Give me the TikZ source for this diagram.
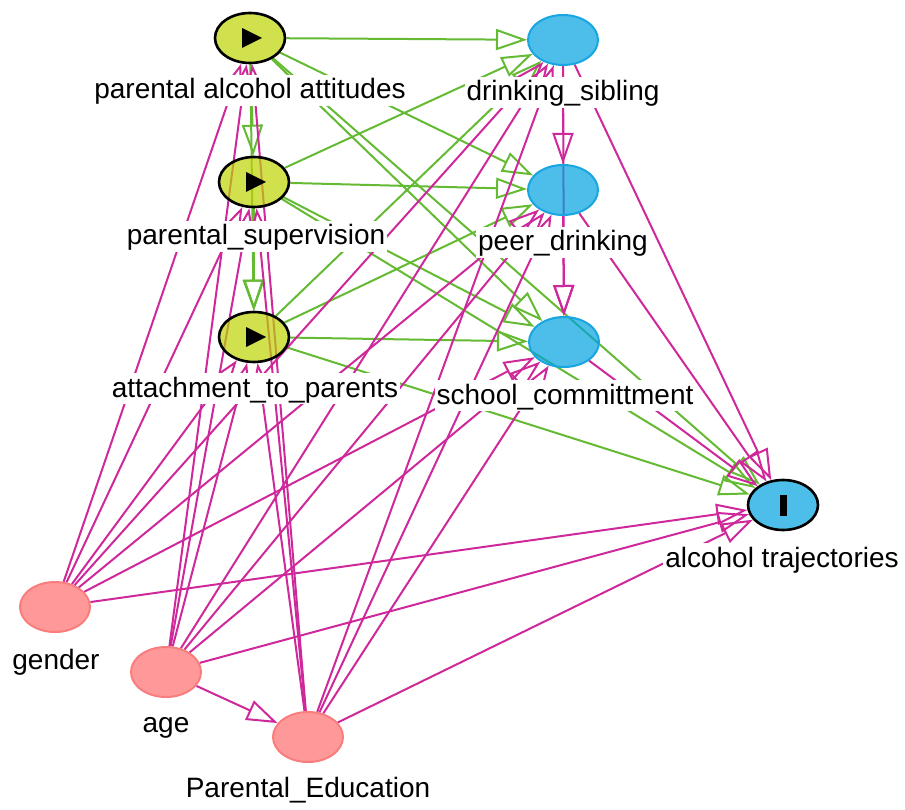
\documentclass[tikz,border=0pt]{standalone}
\usepackage{fontspec}
\setmainfont{Liberation Sans}
\usetikzlibrary{arrows.meta,shapes.geometric}

\definecolor{expfill}{RGB}{190,212,3}
\definecolor{outfill}{RGB}{0,162,224}
\definecolor{outline}{RGB}{25,165,225}
\definecolor{ancfill}{RGB}{255,110,110}
\definecolor{ancline}{RGB}{250,125,125}
\definecolor{causal}{RGB}{100,186,50}
\definecolor{biasing}{RGB}{206,40,155}

\pgfdeclarelayer{edgelayer}
\pgfdeclarelayer{labellayer}
\pgfsetlayers{edgelayer,main,labellayer}

\tikzset{
  var/.style={ellipse, minimum width=70pt, minimum height=50pt, inner sep=0pt, fill opacity=0.7},
  expo/.style={var, fill=expfill, draw=black, line width=2.6pt},
  medi/.style={var, fill=outfill, draw=outline, line width=2pt},
  outc/.style={var, fill=outfill, draw=black, line width=2.6pt},
  anc/.style={var, fill=ancfill, draw=ancline, line width=2pt},
  lab/.style={fill=white, inner xsep=2pt, inner ysep=0pt, text height=24pt, text depth=7pt,
              anchor=base, font=\fontsize{28}{30}\selectfont, text=black},
  arr/.style={-{Triangle[open, length=31pt, width=21pt]}, line width=2pt},
  causaledge/.style={arr, draw=causal},
  biasedge/.style={arr, draw=biasing},
}

\begin{document}
\begin{tikzpicture}[x=1pt, y=-1pt]
\useasboundingbox (0,0) rectangle (905,810);

% variables
\node[expo] (PAA) at (250,38)  {};
\node[expo] (PS)  at (254,182) {};
\node[expo] (ATP) at (254,337) {};
\node[medi] (DS)  at (563,40)  {};
\node[medi] (PD)  at (563,190) {};
\node[medi] (SC)  at (564,342) {};
\node[outc] (AT)  at (783,505) {};
\node[anc]  (G)   at (55,607)  {};
\node[anc]  (AG)  at (166,672) {};
\node[anc]  (PE)  at (308,737) {};

% exposure and outcome marks
\foreach \n in {PAA,PS,ATP}
  \fill[black] (\n.center) ++(-8,-10) -- ++(0,20) -- ++(20,-10) -- cycle;
\fill[black] (AT.center) ++(-3.5,-10.5) rectangle ++(7,21);

\begin{pgfonlayer}{edgelayer}
% causal paths
\draw[causaledge] (PAA) -- (PS);
\draw[causaledge] (PAA) -- (ATP);
\draw[causaledge] (PAA) -- (DS);
\draw[causaledge] (PAA) -- (PD);
\draw[causaledge] (PAA) -- (SC);
\draw[causaledge] (PAA) -- (AT);
\draw[causaledge] (PS) -- (ATP);
\draw[causaledge] (PS) -- (DS);
\draw[causaledge] (PS) -- (PD);
\draw[causaledge] (PS) -- (SC);
\draw[causaledge] (PS) -- (AT);
\draw[causaledge] (ATP) -- (DS);
\draw[causaledge] (ATP) -- (PD);
\draw[causaledge] (ATP) -- (SC);
\draw[causaledge] (ATP) -- (AT);
% biasing paths
\foreach \s in {G,AG,PE}
  \foreach \t in {PAA,PS,ATP,DS,PD,SC,AT}
    \draw[biasedge] (\s) -- (\t);
\draw[biasedge] (AG) -- (PE);
\draw[biasedge] (DS) -- (PD);
\draw[biasedge] (DS) -- (SC);
\draw[biasedge] (DS) -- (AT);
\draw[biasedge] (PD) -- (SC);
\draw[biasedge] (PD) -- (AT);
\draw[biasedge] (SC) -- (AT);
\end{pgfonlayer}

\begin{pgfonlayer}{labellayer}
\node[lab] (lPAA) at (250,99)  {parental alcohol attitudes};
\node[lab] (lPS)  at (256,245) {parental\_supervision};
\node[lab] (lATP) at (255,397) {attachment\_to\_parents};
\node[lab] (lDS)  at (563,101) {drinking\_sibling};
\node[lab] (lPD)  at (563,251) {peer\_drinking};
\node[lab] (lSC)  at (565,404) {school\_committment};
\node[lab] (lAT)  at (782,567) {alcohol trajectories};
\node[lab] (lG)   at (56,669)  {gender};
\node[lab] (lAG)  at (166,732) {age};
\node[lab] (lPE)  at (308,797) {Parental\_Education};
\end{pgfonlayer}
\end{tikzpicture}
\end{document}
